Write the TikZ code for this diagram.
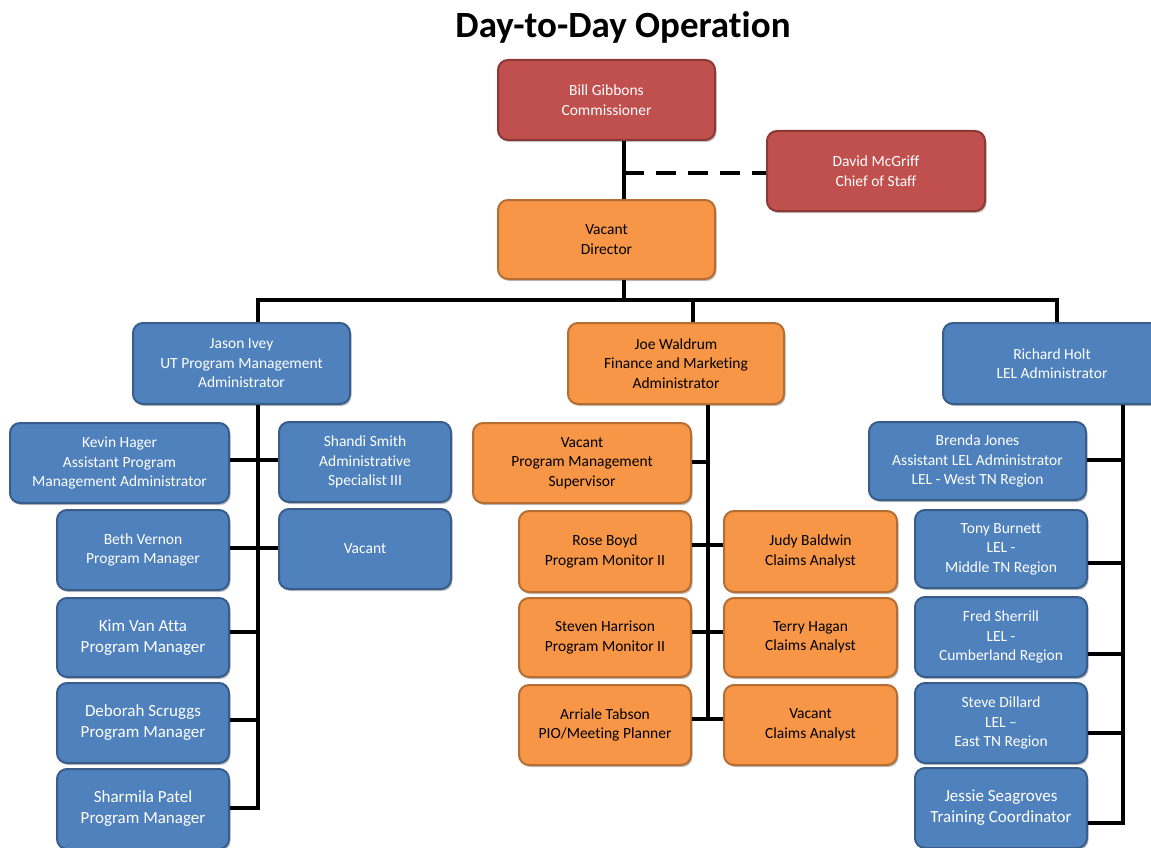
\documentclass[tikz,border=0pt]{standalone}
\usepackage{fontspec}
\setmainfont[Ligatures=CommonOff]{Carlito}
\usetikzlibrary{shadows,calc}
\definecolor{redfill}{HTML}{C0504D}
\definecolor{redline}{HTML}{8C3836}
\definecolor{orfill}{HTML}{F79646}
\definecolor{orline}{HTML}{B66D31}
\definecolor{blfill}{HTML}{4F81BD}
\definecolor{blline}{HTML}{385D8A}
\tikzset{
  box/.style={rounded corners=10pt, line width=2pt, align=center, inner sep=0pt,
    font=\fontsize{15.5}{19.5}\selectfont,
    drop shadow={shadow xshift=1.5pt, shadow yshift=-2pt, opacity=0.25, fill=black}},
  redbox/.style={box, fill=redfill, draw=redline, text=white},
  orbox/.style={box, fill=orfill, draw=orline, text=black},
  blbox/.style={box, fill=blfill, draw=blline, text=white},
  big/.style={font=\fontsize{17}{21}\selectfont},
  conn/.style={line width=4pt, black},
}
% position a box by its corners: \bx{style}{name}{x1}{y1}{x2}{y2}{text}
\newcommand{\bx}[7]{%
  \node[#1, minimum width={#5-#3}, minimum height={#6-#4}] (#2) at ({(#3+#5)/2},{(#4+#6)/2}) {#7};}
\begin{document}
\begin{tikzpicture}[x=1pt,y=-1pt]
\useasboundingbox[fill=white] (0,0) rectangle (1151,848);
\node[anchor=base, font=\bfseries\fontsize{37}{44}\selectfont] (title) at (623,38) {Day-to-Day Operation};

% coordinates for spines and bus
\coordinate (busL) at (258,300);
\coordinate (busM) at (624,300);
\coordinate (busJ) at (693,300);
\coordinate (busR) at (1057,300);
\coordinate (lsp) at (258,808);
\coordinate (msp) at (708,719);
\coordinate (rsp) at (1123,823);

\bx{redbox}{bill}{498}{60}{715}{140}{Bill Gibbons\\Commissioner}
\bx{redbox}{david}{767}{131}{985}{211}{David McGriff\\Chief of Staff}
\bx{orbox}{dir}{498}{200}{715}{279}{Vacant\\Director}

\bx{blbox}{jason}{133}{323}{350}{404}{Jason Ivey\\UT Program Management\\Administrator}
\bx{orbox}{joe}{568}{323}{784}{404}{Joe Waldrum\\Finance and Marketing\\Administrator}
\bx{blbox}{richard}{943}{323}{1161}{404}{Richard Holt\\LEL Administrator}

\bx{blbox}{kevin}{10}{423}{229}{503}{Kevin Hager\\Assistant Program\\Management Administrator}
\bx{blbox}{shandi}{279}{422}{451}{502}{Shandi Smith\\Administrative\\Specialist III}
\bx{blbox}{beth}{57}{510}{229}{590}{Beth Vernon\\Program Manager}
\bx{blbox}{vacL}{279}{509}{451}{589}{Vacant}
\bx{blbox,big}{kim}{57}{598}{229}{677}{Kim Van Atta\\Program Manager}
\bx{blbox,big}{deborah}{57}{683}{229}{763}{Deborah Scruggs\\Program Manager}
\bx{blbox,big}{sharmila}{57}{769}{229}{849}{Sharmila Patel\\Program Manager}

\bx{orbox}{pms}{473}{423}{691}{503}{Vacant\\Program Management\\Supervisor}
\bx{orbox}{rose}{519}{511}{691}{592}{Rose Boyd\\Program Monitor II}
\bx{orbox}{judy}{724}{511}{897}{592}{Judy Baldwin\\Claims Analyst}
\bx{orbox}{steven}{519}{598}{691}{677}{Steven Harrison\\Program Monitor II}
\bx{orbox}{terry}{724}{598}{897}{677}{Terry Hagan\\Claims Analyst}
\bx{orbox}{arriale}{519}{685}{691}{765}{Arriale Tabson\\PIO/Meeting Planner}
\bx{orbox}{vacC}{724}{685}{897}{765}{Vacant\\Claims Analyst}

\bx{blbox}{brenda}{869}{422}{1086}{500}{Brenda Jones\\Assistant LEL Administrator\\LEL - West TN Region}
\bx{blbox}{tony}{915}{510}{1087}{588}{Tony Burnett\\LEL -\\Middle TN Region}
\bx{blbox}{fred}{915}{597}{1087}{677}{Fred Sherrill\\LEL -\\Cumberland Region}
\bx{blbox}{steve}{915}{683}{1087}{763}{Steve Dillard\\LEL –\\East TN Region}
\bx{blbox,big}{jessie}{915}{768}{1087}{848}{Jessie Seagroves\\Training Coordinator}

% connectors
\draw[conn] (bill.south -| busM) -- (dir.north -| busM);
\draw[conn, dash pattern=on 20pt off 12pt] (624,173) -- (david.west |- 0,173);
\draw[conn] (dir.south -| busM) -- (busM);
\draw[conn, line join=miter] (jason.north -| busL) -- (busL) -- (busR) -- (richard.north -| busR);
\draw[conn] (busJ) -- (joe.north -| busJ);

% left group
\draw[conn] (jason.south -| lsp) -- (lsp);
\draw[conn] (kevin.east |- 0,460) -- (shandi.west |- 0,460);
\draw[conn] (beth.east |- 0,548) -- (vacL.west |- 0,548);
\draw[conn] (kim.east |- 0,632) -- (lsp |- 0,632);
\draw[conn] (deborah.east |- 0,720) -- (lsp |- 0,720);
\draw[conn] (sharmila.east |- lsp) -- ([xshift=2pt]lsp);

% middle group
\draw[conn] (joe.south -| msp) -- ([yshift=-2pt]msp);
\draw[conn] (pms.east |- 0,462) -- (msp |- 0,462);
\draw[conn] (rose.east |- 0,545) -- (judy.west |- 0,545);
\draw[conn] (steven.east |- 0,632) -- (terry.west |- 0,632);
\draw[conn] (arriale.east |- msp) -- (vacC.west |- msp);

% right group
\draw[conn] (richard.south -| rsp) -- ([yshift=-2pt]rsp);
\draw[conn] (brenda.east |- 0,460) -- (rsp |- 0,460);
\draw[conn] (tony.east |- 0,563) -- (rsp |- 0,563);
\draw[conn] (fred.east |- 0,654) -- (rsp |- 0,654);
\draw[conn] (steve.east |- 0,733) -- (rsp |- 0,733);
\draw[conn] (jessie.east |- rsp) -- ([xshift=2pt]rsp);
\end{tikzpicture}
\end{document}
